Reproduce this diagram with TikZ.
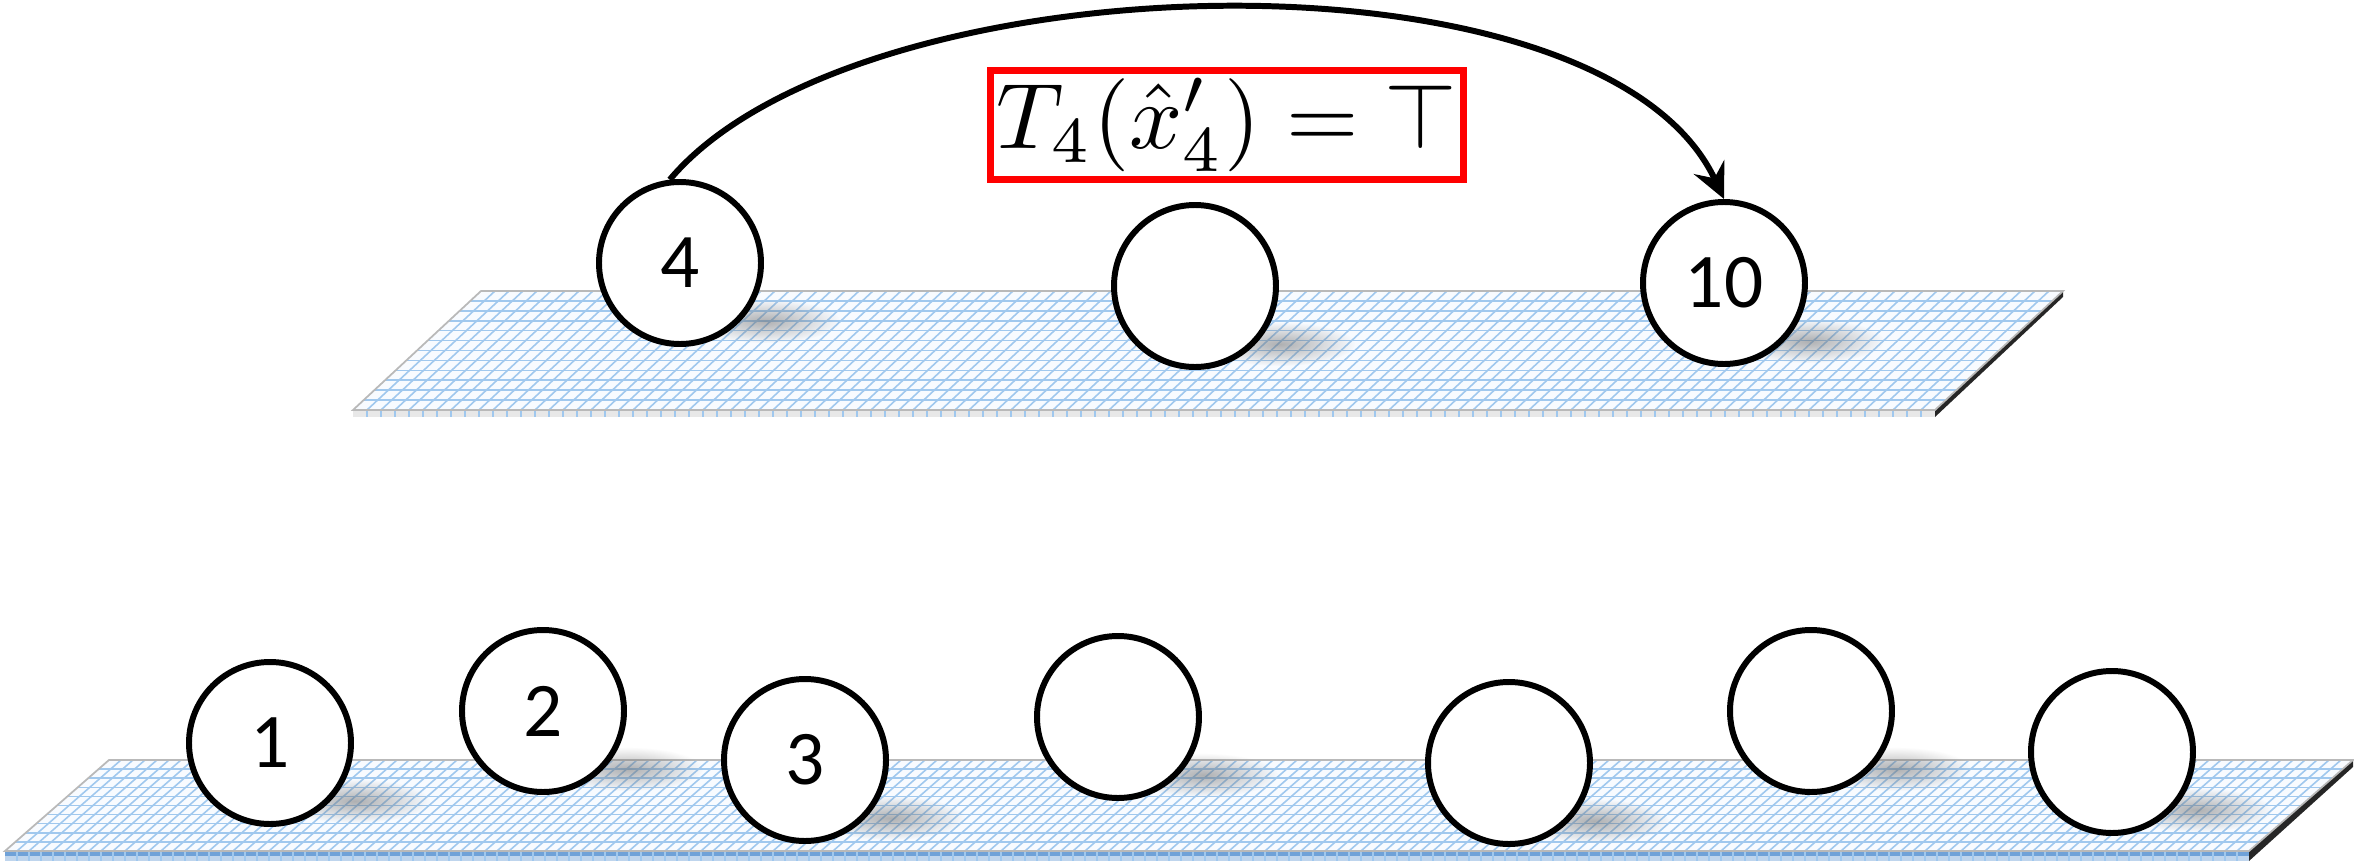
\documentclass[tikz,border=0pt]{standalone}
\usepackage{amsmath,amssymb}
\usepackage{graphicx}
\usepackage{fontspec}
\newfontfamily\numfont{Carlito}
\usepackage{tikz}
\usetikzlibrary{arrows.meta,positioning,calc,fadings}
\usepackage{xcolor}
\definecolor{gridblue}{RGB}{160,200,238}
\definecolor{paperblue}{RGB}{248,251,255}
\definecolor{edgeblue}{RGB}{112,162,216}
\tikzfading[name=blobfade,inner color=transparent!0,outer color=transparent!100]
\pgfdeclarelayer{paper}
\pgfdeclarelayer{shade}
\pgfsetlayers{paper,shade,main}

\begin{document}
\begin{tikzpicture}[
  ball/.style={circle,draw,line width=1.7pt,fill=white,minimum size=1.62cm,inner sep=0pt,font=\numfont\fontsize{22}{26}\selectfont},
  blob/.style={fill=black!60,path fading=blobfade,opacity=0.5},
  gridline/.style={draw=gridblue,line width=0.45pt},
  rim/.style={draw=gray!55,line width=0.5pt},
  >={Stealth[length=10pt,width=9.5pt,inset=3.5pt]}
]
  \useasboundingbox (0,0) rectangle (23.54,8.62);

  % Upper plane
  \coordinate (ubl) at (3.53,4.52);
  \coordinate (ubr) at (19.35,4.52);
  \coordinate (utr) at (20.63,5.71);
  \coordinate (utl) at (4.81,5.71);

  % Lower plane
  \coordinate (lbl) at (0.05,0.11);
  \coordinate (lbr) at (22.49,0.11);
  \coordinate (ltr) at (23.53,1.02);
  \coordinate (ltl) at (1.09,1.02);

  \begin{pgfonlayer}{paper}
    \fill[gray!18] (ubl) -- (ubr) -- ++(0,-0.07) -- ($(ubl)+(0,-0.07)$) -- cycle;
    \fill[gray!30!black] (ubr) -- (utr) -- ++(0,-0.06) -- ($(ubr)+(0,-0.07)$) -- cycle;
    \fill[paperblue] (ubl) -- (ubr) -- (utr) -- (utl) -- cycle;
    \foreach \t in {1,...,11}
      \draw[gridline] ($(ubl)!\t/12!(utl)$) -- ($(ubr)!\t/12!(utr)$);
    \foreach \s in {1,...,112} {
      \draw[gridline] ($(ubl)!\s/113!(ubr)$) -- ($(utl)!\s/113!(utr)$);
      \draw[gridline] ($(ubl)!\s/113!(ubr)$) -- ++(0,-0.07);
    }
    \draw[rim] (ubl) -- (ubr) -- (utr) -- (utl) -- cycle;

    \fill[edgeblue!45] (lbl) -- (lbr) -- ++(0,-0.10) -- ($(lbl)+(0,-0.10)$) -- cycle;
    \fill[edgeblue] (lbl) -- (lbr) -- ++(0,-0.05) -- ($(lbl)+(0,-0.05)$) -- cycle;
    \fill[gray!30!black] (lbr) -- (ltr) -- ++(0,-0.07) -- ($(lbr)+(0,-0.10)$) -- cycle;
    \fill[paperblue] (lbl) -- (lbr) -- (ltr) -- (ltl) -- cycle;
    \foreach \t in {1,...,9}
      \draw[gridline] ($(lbl)!\t/10!(ltl)$) -- ($(lbr)!\t/10!(ltr)$);
    \foreach \s in {1,...,186} {
      \draw[gridline] ($(lbl)!\s/187!(lbr)$) -- ($(ltl)!\s/187!(ltr)$);
      \draw[gridline] ($(lbl)!\s/187!(lbr)$) -- ++(0,-0.10);
    }
    \draw[rim] (lbl) -- (lbr) -- (ltr) -- (ltl) -- cycle;
  \end{pgfonlayer}

  % Balls on the upper plane
  \node[ball] (t4) at (6.80,5.99) {4};
  \node[ball] (tmid) at (11.95,5.76) {};
  \node[ball] (t10) at (17.24,5.79) {10};

  % Balls on the lower plane
  \node[ball] (b1) at (2.70,1.19) {1};
  \node[ball] (b2) at (5.43,1.51) {2};
  \node[ball] (b3) at (8.05,1.02) {3};
  \node[ball] (b4) at (11.18,1.45) {};
  \node[ball] (b5) at (15.09,0.99) {};
  \node[ball] (b6) at (18.11,1.51) {};
  \node[ball] (b7) at (21.12,1.10) {};

  % Shadows
  \begin{pgfonlayer}{shade}
    \foreach \n in {t4,tmid,t10,b1,b2,b3,b4,b5,b6,b7}
      \fill[blob] ($(\n)+(0.85,-0.58)$) ellipse (0.75 and 0.22);
  \end{pgfonlayer}

  % Condition and jump
  \node[draw=red,line width=2pt,inner sep=1pt,minimum width=4.73cm,minimum height=1.09cm]
    (cond) at (12.27,7.37) {\scalebox{2.65}{$T_4(\hat{x}'_4) = \top$}};
  \draw[->,line width=1.7pt] (t4.97) to[out=50,in=115,looseness=0.7] (t10.north);
\end{tikzpicture}
\end{document}
